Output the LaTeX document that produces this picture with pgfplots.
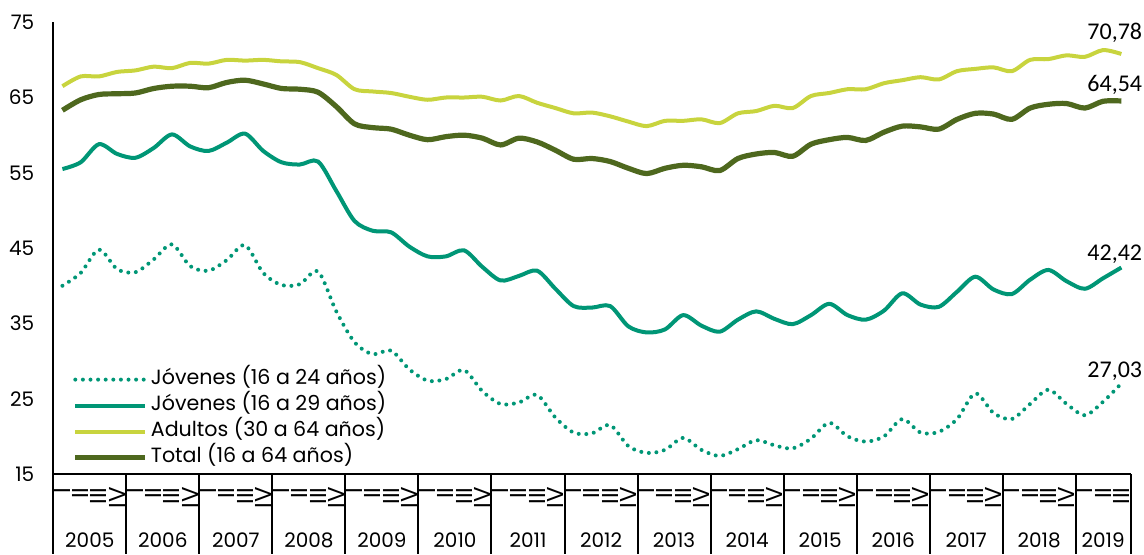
\documentclass[border=0pt]{standalone}
\usepackage{fontspec}
\setmainfont{Poppins}
\newfontfamily\calib{Carlito}
\usepackage{pgfplots}
\pgfplotsset{compat=1.18}
\definecolor{cJov}{RGB}{0,150,118}
\definecolor{cAdu}{RGB}{200,212,62}
\definecolor{cTot}{RGB}{78,104,30}

\begin{document}
\begin{tikzpicture}
\path[use as bounding box] (-26.65pt,-40pt) rectangle (545.35pt,237pt);
\begin{axis}[
  at={(0,0)}, anchor=south west,
  scale only axis, width=538.6pt, height=225.9pt,
  xmin=-0.5, xmax=58.5, ymin=15, ymax=75,
  axis lines*=left,
  axis line style={black, line width=0.9pt},
  major tick length=0pt,
  ytick={15,25,...,75},
  xtick={0,...,58},
  xticklabels={I,II,III,IV,I,II,III,IV,I,II,III,IV,I,II,III,IV,I,II,III,IV,I,II,III,IV,I,II,III,IV,I,II,III,IV,I,II,III,IV,I,II,III,IV,I,II,III,IV,I,II,III,IV,I,II,III,IV,I,II,III,IV,I,II,III},
  xticklabel style={rotate=90, anchor=east, font=\fontsize{11.5}{11.5}\selectfont, inner sep=0pt},
  xticklabel shift=6.5pt,
  yticklabel style={font=\fontsize{10}{10}\selectfont, xshift=-6pt},
  /pgf/number format/assume math mode=true,
  clip=false,
  legend image code/.code={\draw[#1] (0pt,0pt) -- (35pt,0pt);},
  legend cell align=left,
  legend style={at={(axis cs:-0.5,15)}, anchor=south west, xshift=9.5pt, yshift=1.5pt,
    draw=none, fill=none, inner sep=0pt, row sep=0pt,
    font=\fontsize{10.3}{10.3}\selectfont,
    nodes={inner ysep=1.5pt, inner xsep=1.5pt, text height=7.5pt, text depth=2.5pt}},
]
\addplot[cJov, line width=2pt, smooth, dash pattern=on 0pt off 3.8pt, line cap=round] coordinates {
(0,40.0) (1,41.7) (2,44.8) (3,42.2) (4,41.8) (5,43.5) (6,45.5) (7,42.6) (8,42.0) (9,43.4)
(10,45.4) (11,41.7) (12,40.1) (13,40.2) (14,41.9) (15,36.6) (16,32.5) (17,30.9) (18,31.4) (19,28.9)
(20,27.4) (21,27.6) (22,28.8) (23,26.0) (24,24.3) (25,24.5) (26,25.5) (27,22.5) (28,20.5) (29,20.4)
(30,21.5) (31,18.7) (32,17.8) (33,18.2) (34,19.8) (35,18.2) (36,17.4) (37,18.3) (38,19.5) (39,18.8)
(40,18.4) (41,19.7) (42,21.8) (43,20.0) (44,19.3) (45,20.0) (46,22.3) (47,20.5) (48,20.6) (49,22.3)
(50,25.7) (51,23.1) (52,22.3) (53,24.3) (54,26.2) (55,24.3) (56,22.8) (57,24.6) (58,27.03)};
\addlegendentry{Jóvenes (16 a 24 años)}
\addplot[cJov, line width=2pt, smooth] coordinates {
(0,55.5) (1,56.4) (2,58.8) (3,57.5) (4,57.0) (5,58.3) (6,60.1) (7,58.5) (8,57.9) (9,59.0)
(10,60.2) (11,57.9) (12,56.4) (13,56.1) (14,56.5) (15,52.6) (16,48.6) (17,47.3) (18,47.1) (19,45.2)
(20,43.9) (21,43.9) (22,44.7) (23,42.5) (24,40.7) (25,41.3) (26,42.0) (27,39.6) (28,37.3) (29,37.1)
(30,37.3) (31,34.6) (32,33.8) (33,34.2) (34,36.1) (35,34.7) (36,33.9) (37,35.5) (38,36.6) (39,35.6)
(40,34.9) (41,36.1) (42,37.6) (43,36.1) (44,35.5) (45,36.7) (46,39.0) (47,37.5) (48,37.2) (49,39.2)
(50,41.2) (51,39.5) (52,38.9) (53,40.8) (54,42.1) (55,40.6) (56,39.6) (57,41.0) (58,42.42)};
\addlegendentry{Jóvenes (16 a 29 años)}
\addplot[cAdu, line width=2pt, smooth] coordinates {
(0,66.5) (1,67.8) (2,67.8) (3,68.4) (4,68.6) (5,69.1) (6,68.9) (7,69.6) (8,69.5) (9,70.0)
(10,69.9) (11,70.0) (12,69.8) (13,69.7) (14,68.9) (15,68.0) (16,66.1) (17,65.8) (18,65.6) (19,65.1)
(20,64.7) (21,65.0) (22,65.0) (23,65.1) (24,64.6) (25,65.2) (26,64.3) (27,63.6) (28,62.9) (29,63.0)
(30,62.5) (31,61.8) (32,61.2) (33,61.9) (34,61.9) (35,62.1) (36,61.6) (37,62.9) (38,63.2) (39,63.9)
(40,63.6) (41,65.2) (42,65.6) (43,66.1) (44,66.1) (45,66.9) (46,67.3) (47,67.7) (48,67.4) (49,68.5)
(50,68.8) (51,69.0) (52,68.5) (53,70.0) (54,70.1) (55,70.6) (56,70.4) (57,71.3) (58,70.78)};
\addlegendentry{Adultos (30 a 64 años)}
\addplot[cTot, line width=2.6pt, smooth] coordinates {
(0,63.3) (1,64.7) (2,65.4) (3,65.5) (4,65.6) (5,66.2) (6,66.5) (7,66.5) (8,66.3) (9,67.0)
(10,67.3) (11,66.8) (12,66.2) (13,66.1) (14,65.7) (15,63.8) (16,61.5) (17,61.0) (18,60.8) (19,60.0)
(20,59.4) (21,59.8) (22,60.0) (23,59.6) (24,58.7) (25,59.6) (26,59.1) (27,58.0) (28,56.8) (29,56.9)
(30,56.5) (31,55.6) (32,54.9) (33,55.6) (34,56.0) (35,55.8) (36,55.3) (37,56.9) (38,57.5) (39,57.7)
(40,57.2) (41,58.8) (42,59.4) (43,59.7) (44,59.3) (45,60.4) (46,61.2) (47,61.1) (48,60.8) (49,62.1)
(50,62.9) (51,62.8) (52,62.1) (53,63.6) (54,64.1) (55,64.2) (56,63.6) (57,64.5) (58,64.54)};
\addlegendentry{Total (16 a 64 años)}
\node[font=\calib\fontsize{12}{12}\selectfont] at (axis cs:57.64,73.63) {70,78};
\node[font=\calib\fontsize{12}{12}\selectfont] at (axis cs:57.64,66.73) {64,54};
\node[font=\calib\fontsize{12}{12}\selectfont] at (axis cs:57.64,44.15) {42,42};
\node[font=\calib\fontsize{12}{12}\selectfont] at (axis cs:57.64,28.6) {27,03};
\end{axis}
% category band: year separators and year labels
\foreach \k in {0,...,14} \draw[line width=1pt] (\k*36.515pt,0) -- ++(0,-40pt);
\draw[line width=1pt] (538.6pt,0) -- ++(0,-40pt);
\foreach \y [count=\k from 0] in {2005,2006,2007,2008,2009,2010,2011,2012,2013,2014,2015,2016,2017,2018}
  \node[font=\fontsize{10}{10}\selectfont] at ({(\k+0.5)*36.515pt},-33.3pt) {\y};
\node[font=\fontsize{10}{10}\selectfont] at (524.9pt,-33.3pt) {2019};
\end{tikzpicture}
\end{document}
